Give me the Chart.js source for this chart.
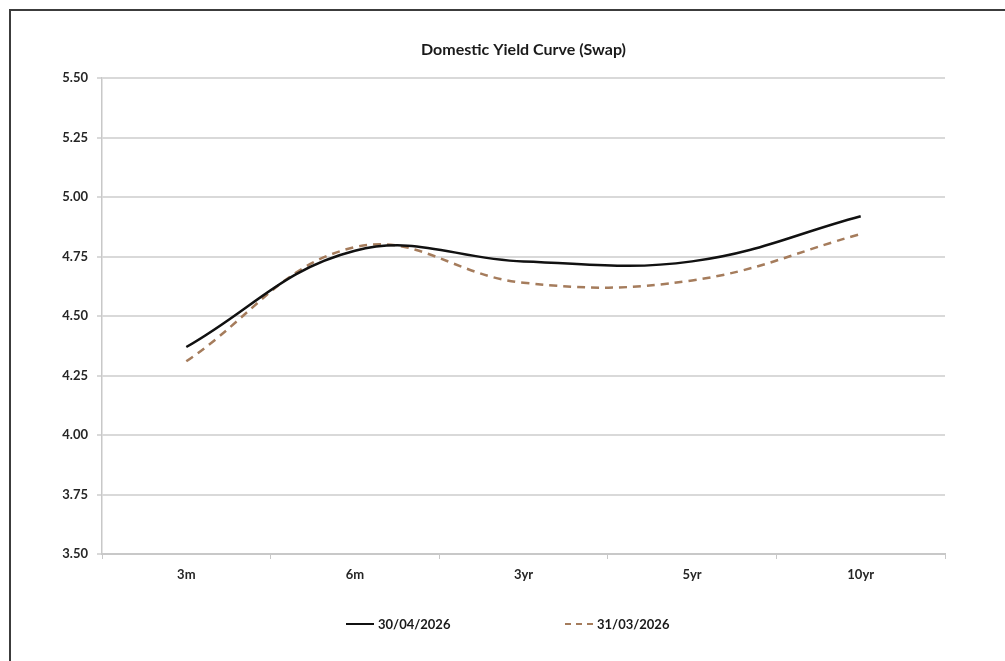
<!DOCTYPE html>
<html>
<head>
<meta charset="utf-8">
<script src="https://cdn.jsdelivr.net/npm/chart.js@4.4.1/dist/chart.umd.min.js"></script>
<style>
  html, body { margin: 0; background: #fff; overflow: hidden; width: 1005px; height: 661px; }
  #frame {
    position: absolute; left: 9px; top: 9px;
    width: 1100px; height: 700px;
    border: 2px solid #3c3c3c;
  }
  #wrap { position: absolute; left: 0; top: 0; width: 1005px; height: 661px; }
  #legend {
    position: absolute; top: 616px; left: 0; width: 1005px;
    font: bold 13px Lato, sans-serif; color: #1a1a1a;
  }
  .item { position: absolute; top: 0; display: flex; align-items: center; }
  .sample { display: inline-block; width: 28px; margin-right: 4px; }
</style>
</head>
<body>
<div id="frame"></div>
<div id="wrap"><canvas id="yield-chart" width="1005" height="661"></canvas></div>
<div id="legend"></div>

<script>
// tenors along the curve
const tenors = ['3m', '6m', '3yr', '5yr', '10yr'];

// swap rates
const apr2026 = [4.37, 4.775, 4.73, 4.73, 4.92];
const mar2026 = [4.31, 4.79, 4.64, 4.65, 4.845];

const seriesNames = ['30/04/2026', '31/03/2026'];
const seriesColors = ['#111111', '#a57c5c'];

const ctx = document.getElementById('yield-chart').getContext('2d');

const chart = new Chart(ctx, {
    type: 'line',
    data: {
        labels: tenors,
        datasets: [
            {
                label: seriesNames[0],
                data: apr2026,
                borderColor: seriesColors[0],
                borderWidth: 2.5,
                pointRadius: 0,
                tension: 0.4
            },
            {
                label: seriesNames[1],
                data: mar2026,
                borderColor: seriesColors[1],
                borderWidth: 2.5,
                borderDash: [8, 6],
                pointRadius: 0,
                tension: 0.4
            }
        ]
    },
    options: {
        responsive: false,
        animation: false,
        layout: {
            padding: { left: 10, right: 60, top: 40, bottom: 60 }
        },
        plugins: {
            legend: { display: false },
            tooltip: { enabled: false },
            title: {
                display: true,
                fullSize: false,
                text: 'Domestic Yield Curve (Swap)',
                color: '#1a1a1a',
                font: { family: 'Lato', size: 16, weight: 'bold', lineHeight: 1.2 },
                padding: { top: 0, bottom: 19 }
            }
        },
        scales: {
            x: {
                offset: true,
                grid: {
                    offset: true,
                    drawOnChartArea: false,
                    tickLength: 5,
                    color: '#c8c8c8',
                    lineWidth: 1
                },
                border: { color: '#c8c8c8', width: 2 },
                ticks: {
                    color: '#262626',
                    padding: 8,
                    font: { family: 'Lato', size: 13, weight: 'bold' }
                },
                afterFit: scale => { scale.height = 47; }
            },
            y: {
                min: 3.5,
                max: 5.5,
                grid: {
                    color: '#d9d9d9',
                    lineWidth: 2,
                    tickLength: 5
                },
                border: { color: '#c8c8c8', width: 1.5 },
                ticks: {
                    stepSize: 0.25,
                    color: '#262626',
                    padding: 9,
                    font: { family: 'Lato', size: 13, weight: 'bold' },
                    callback: v => v.toFixed(2)
                },
                afterFit: scale => { scale.width = 92; }
            }
        }
    }
});

// legend below the plot, like the original
const legend = document.getElementById('legend');
const legendX = [346, 565];
chart.data.datasets.forEach((ds, i) => {
    const item = document.createElement('div');
    item.className = 'item';
    item.style.left = legendX[i] + 'px';
    const sample = document.createElement('span');
    sample.className = 'sample';
    sample.style.borderTop = ds.borderDash ? '2px dashed ' + ds.borderColor : '2.5px solid ' + ds.borderColor;
    item.appendChild(sample);
    const text = document.createElement('span');
    text.textContent = ds.label;
    item.appendChild(text);
    legend.appendChild(item);
});
</script>
</body>
</html>
